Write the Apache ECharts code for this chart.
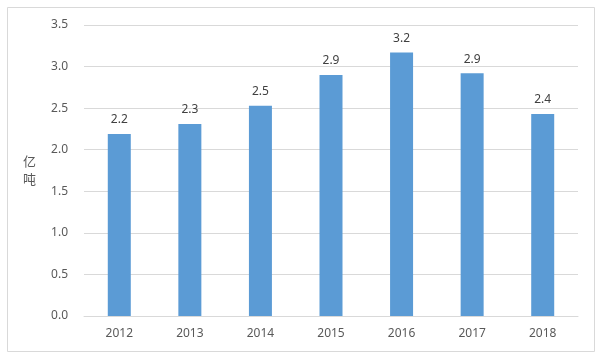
<!DOCTYPE html>
<html>
<head>
<meta charset="utf-8">
<script src="https://cdn.jsdelivr.net/npm/echarts@6/dist/echarts.min.js"></script>
<style>
html,body{margin:0;padding:0;background:#fff;}
#c{width:602px;height:356px;}
</style>
</head>
<body>
<div id="c"></div>
<script>
var categories = ['2012','2013','2014','2015','2016','2017','2018'];
var values = [2.19, 2.31, 2.53, 2.90, 3.17, 2.92, 2.43];
var yTicks = [0, 0.5, 1.0, 1.5, 2.0, 2.5, 3.0, 3.5];
var unitName = '亿吨';

var chart = echarts.init(document.getElementById('c'));
chart.setOption({
  animation: false,
  backgroundColor: '#fff',
  textStyle: {fontFamily: 'Noto Sans, Noto Sans CJK SC, sans-serif'},
  graphic: [{
    type: 'rect',
    shape: {x: 7.5, y: 7.5, width: 587, height: 344},
    style: {fill: 'none', stroke: '#d9d9d9', lineWidth: 1}
  }],
  grid: {left: 84, right: 24, top: 25, bottom: 40},
  xAxis: {
    type: 'category',
    data: categories,
    axisLine: {lineStyle: {color: '#d9d9d9'}},
    axisTick: {show: false},
    axisLabel: {color: '#595959', fontSize: 12, margin: 12}
  },
  yAxis: {
    type: 'value',
    min: yTicks[0],
    max: yTicks[yTicks.length - 1],
    interval: 0.5,
    name: unitName.split('').join('\n'),
    nameLocation: 'middle',
    nameRotate: 0,
    nameGap: 48,
    nameTextStyle: {color: '#595959', fontSize: 13, fontFamily: 'Noto Sans CJK SC', lineHeight: 18},
    axisLine: {show: false},
    axisTick: {show: false},
    axisLabel: {color: '#595959', fontSize: 12, margin: 16, formatter: function (v) { return v.toFixed(1); }},
    splitLine: {lineStyle: {color: '#d9d9d9'}}
  },
  series: [{
    type: 'bar',
    data: values,
    barWidth: 23,
    itemStyle: {color: '#5b9bd5'},
    label: {
      show: true,
      position: 'top',
      distance: 8,
      color: '#404040',
      fontSize: 12,
      formatter: function (p) { return p.value.toFixed(1); }
    }
  }]
});
</script>
</body>
</html>
